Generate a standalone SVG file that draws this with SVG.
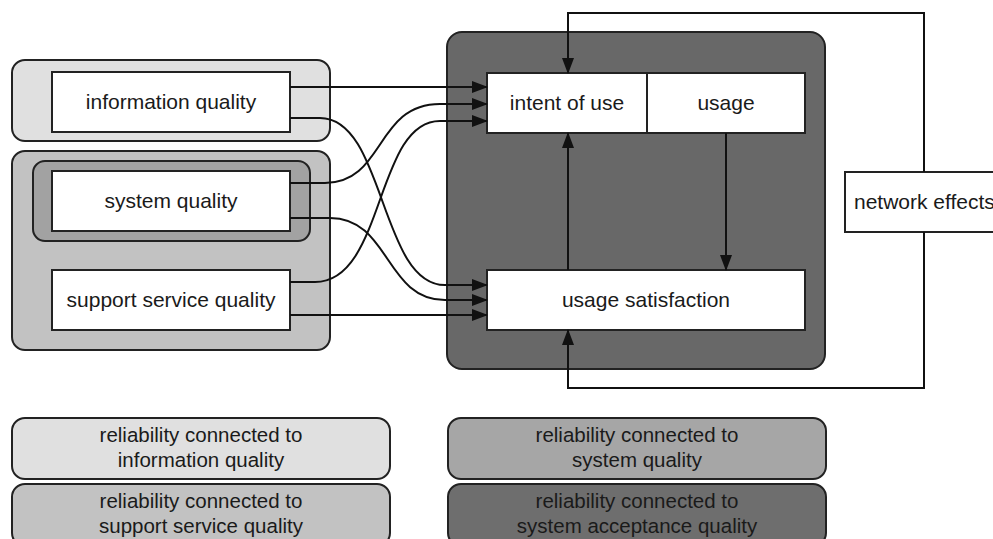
<svg xmlns="http://www.w3.org/2000/svg" width="993" height="539" viewBox="0 0 993 539">
<defs>
<style>
text{font-family:"Liberation Sans",Arial,sans-serif;font-size:21px;fill:#1a1a1a;text-anchor:middle}
.lg{font-size:20.5px}
.grp{stroke:#222;stroke-width:2}
.box{fill:#fff;stroke:#222;stroke-width:2}
.c{fill:none;stroke:#111;stroke-width:2}
</style>
<marker id="ah" markerWidth="16" markerHeight="12" refX="15" refY="6" orient="auto" markerUnits="userSpaceOnUse">
<path d="M0,0 L16,6 L0,12 Z" fill="#111"/>
</marker>
</defs>
<rect width="993" height="539" fill="#fff"/>

<g id="group-information">
<rect class="grp" x="12" y="60" width="318" height="81" rx="13" fill="#e0e0e0"/>
</g>
<g id="group-support">
<rect class="grp" x="12" y="151" width="318" height="199" rx="13" fill="#c2c2c2"/>
</g>
<g id="group-system">
<rect class="grp" x="33" y="161" width="277" height="80" rx="12" fill="#a2a2a2"/>
</g>
<g id="group-acceptance">
<rect class="grp" x="447" y="32" width="378" height="337" rx="15" fill="#686868"/>
</g>

<g id="information-quality">
<rect class="box" x="52" y="72" width="238" height="60"/>
<text x="171" y="109">information quality</text>
</g>
<g id="system-quality">
<rect class="box" x="52" y="171" width="238" height="60"/>
<text x="171" y="208">system quality</text>
</g>
<g id="support-service-quality">
<rect class="box" x="52" y="270" width="238" height="60"/>
<text x="171" y="307">support service quality</text>
</g>
<g id="intent-of-use">
<rect class="box" x="487" y="73" width="160" height="60"/>
<text x="567" y="110">intent of use</text>
</g>
<g id="usage">
<rect class="box" x="647" y="73" width="158" height="60"/>
<text x="726" y="110">usage</text>
</g>
<g id="usage-satisfaction">
<rect class="box" x="487" y="270" width="318" height="60"/>
<text x="646" y="307">usage satisfaction</text>
</g>
<g id="network-effects">
<rect class="box" x="845" y="172" width="170" height="60"/>
<text x="854" y="209" style="text-anchor:start">network effects</text>
</g>

<g id="connectors">
<path class="c" d="M290,87 H487" marker-end="url(#ah)"/>
<path class="c" d="M290,118 H320 C385,118 380,285 445,285 H487" marker-end="url(#ah)"/>
<path class="c" d="M290,183 H325 C385,183 375,104 440,104 H487" marker-end="url(#ah)"/>
<path class="c" d="M290,218 H330 C390,218 385,300 445,300 H487" marker-end="url(#ah)"/>
<path class="c" d="M290,282 H315 C385,282 375,121 440,121 H487" marker-end="url(#ah)"/>
<path class="c" d="M290,315 H487" marker-end="url(#ah)"/>
<path class="c" d="M568,270 V133" marker-end="url(#ah)"/>
<path class="c" d="M726,133 V270" marker-end="url(#ah)"/>
<path class="c" d="M924,172 V13 H568 V73" marker-end="url(#ah)"/>
<path class="c" d="M924,232 V388 H568 V330" marker-end="url(#ah)"/>
</g>

<g id="legend-information">
<rect class="grp" x="12" y="418" width="378" height="61" rx="13" fill="#e0e0e0"/>
<text class="lg" x="201" y="442">reliability connected to</text>
<text class="lg" x="201" y="467">information quality</text>
</g>
<g id="legend-support">
<rect class="grp" x="12" y="484" width="378" height="62" rx="13" fill="#c2c2c2"/>
<text class="lg" x="201" y="508">reliability connected to</text>
<text class="lg" x="201" y="533">support service quality</text>
</g>
<g id="legend-system">
<rect class="grp" x="448" y="418" width="378" height="61" rx="13" fill="#a6a6a6"/>
<text class="lg" x="637" y="442">reliability connected to</text>
<text class="lg" x="637" y="467">system quality</text>
</g>
<g id="legend-acceptance">
<rect class="grp" x="448" y="484" width="378" height="62" rx="13" fill="#6e6e6e"/>
<text class="lg" x="637" y="508">reliability connected to</text>
<text class="lg" x="637" y="533">system acceptance quality</text>
</g>
</svg>
